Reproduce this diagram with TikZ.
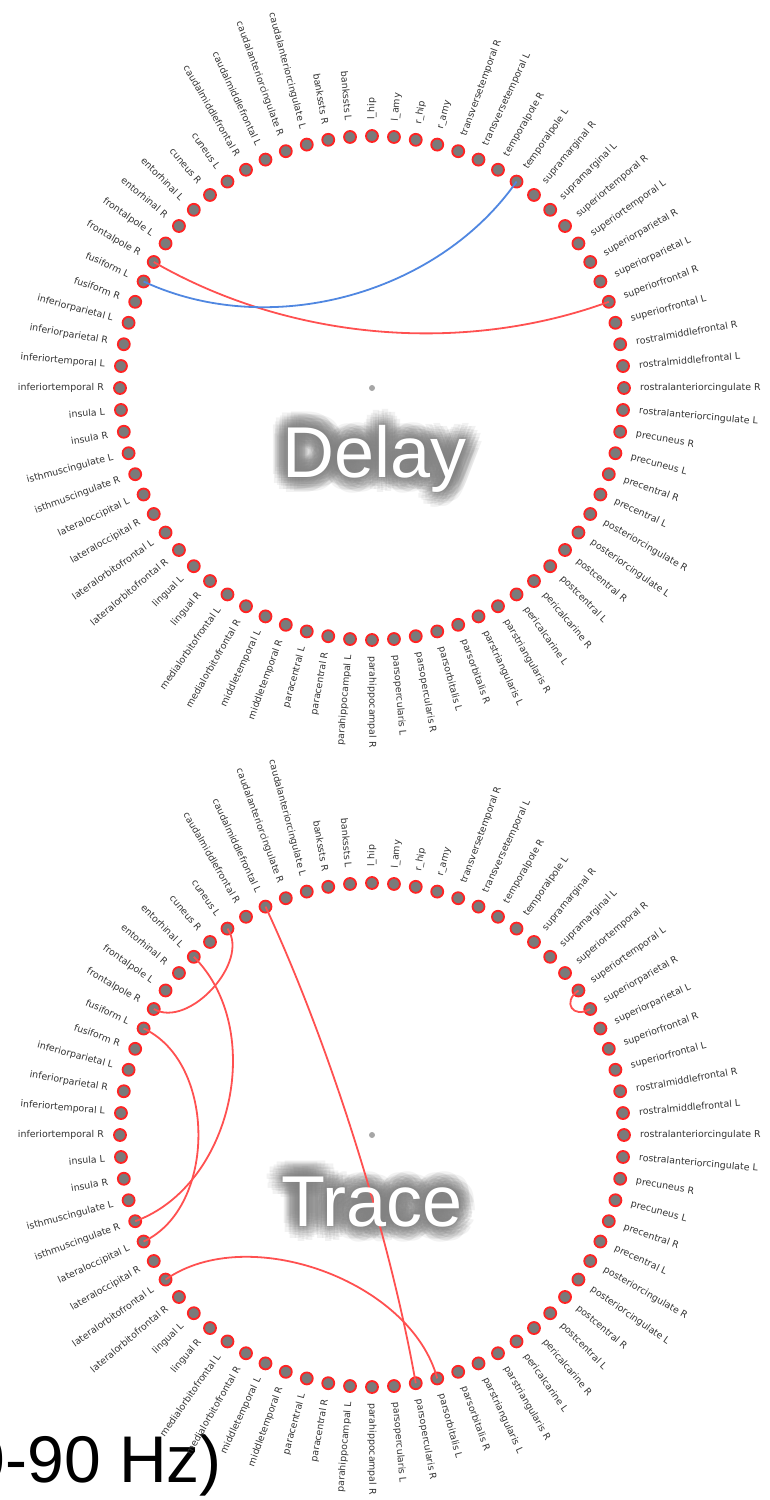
\documentclass[tikz,border=0pt]{standalone}
\usepackage{fontspec}
\newfontfamily\labfont{DejaVu Sans}
\newfontfamily\wordfont{Liberation Sans}
\usetikzlibrary{calc}

\definecolor{roigray}{RGB}{122,122,122}
\definecolor{roired}{RGB}{255,35,35}
\definecolor{linkred}{RGB}{255,80,80}
\definecolor{linkblue}{RGB}{80,135,225}

% regions, clockwise from the top of the circle
\newcommand\roilist{l\_hip, l\_amy, r\_hip, r\_amy, transversetemporal R, transversetemporal L, temporalpole R, temporalpole L, supramarginal R, supramarginal L, superiortemporal R, superiortemporal L, superiorparietal R, superiorparietal L, superiorfrontal R, superiorfrontal L, rostralmiddlefrontal R, rostralmiddlefrontal L, rostralanteriorcingulate R, rostralanteriorcingulate L, precuneus R, precuneus L, precentral R, precentral L, posteriorcingulate R, posteriorcingulate L, postcentral R, postcentral L, pericalcarine R, pericalcarine L, parstriangularis R, parstriangularis L, parsorbitalis R, parsorbitalis L, parsopercularis R, parsopercularis L, parahippocampal R, parahippocampal L, paracentral R, paracentral L, middletemporal R, middletemporal L, medialorbitofrontal R, medialorbitofrontal L, lingual R, lingual L, lateralorbitofrontal R, lateralorbitofrontal L, lateraloccipital R, lateraloccipital L, isthmuscingulate R, isthmuscingulate L, insula R, insula L, inferiortemporal R, inferiortemporal L, inferiorparietal R, inferiorparietal L, fusiform R, fusiform L, frontalpole R, frontalpole L, entorhinal R, entorhinal L, cuneus R, cuneus L, caudalmiddlefrontal R, caudalmiddlefrontal L, caudalanteriorcingulate R, caudalanteriorcingulate L, bankssts R, bankssts L}

% soft shadow: faint copies of a word spread round a circle
\newcommand\glowcopies[1]{%
  \foreach \r in {2,4,...,16}{%
    \foreach \a in {0,30,...,330}{%
      \pgfmathsetlengthmacro\gx{\r*cos(\a+\r*7)}%
      \pgfmathsetlengthmacro\gy{\r*sin(\a+\r*7)}%
      \rlap{\hspace*{\gx}\raisebox{\gy}{#1}}%
    }%
  }%
  \phantom{#1}}

\begin{document}
\begin{tikzpicture}[x=1pt, y=1pt,
    roi/.style={circle, draw=roired, fill=roigray, line width=1.8pt, minimum size=12pt, inner sep=0pt},
    roilabel/.style={font=\labfont\fontsize{9.4}{10}\selectfont, text=black!80, inner sep=0pt},
    hub/.style={circle, fill=black!35, minimum size=6pt, inner sep=0pt},
    link/.style={line width=1.8pt},
    glow/.style={font=\wordfont\fontsize{72}{80}\selectfont, text=black!50, text opacity=0.1, inner sep=0pt, anchor=base},
    word/.style={font=\wordfont\fontsize{72}{80}\selectfont, text=white, inner sep=0pt, anchor=base}]

    % Frame
    \useasboundingbox (0,0) rectangle (769,-1500);
    \clip (0,0) rectangle (769,-1500);

    % Band title (cut at the left edge)
    \node[font=\wordfont\fontsize{66}{70}\selectfont, anchor=base east, inner sep=0pt] (band) at (222,-1482) {0-90 Hz)};

    % Circle centres
    \coordinate (dc) at (372,-388);
    \coordinate (tc) at (372,-1135);

    % Regions and their names
    \foreach \g/\cen in {d/dc, t/tc}{
      \foreach \lab [count=\i from 0] in \roilist {
        \pgfmathsetmacro\ang{90-5*\i}
        \node[roi] (\g\i) at ($(\cen)+(\ang:252)$) {};
        \ifnum\i<37
          \node[roilabel, anchor=west, rotate=\ang] (\g\i-lab) at ($(\cen)+(\ang:268)$) {\lab};
        \else
          \pgfmathsetmacro\flip{\ang+180}
          \node[roilabel, anchor=east, rotate=\flip] (\g\i-lab) at ($(\cen)+(\ang:268)$) {\lab};
        \fi
      }
    }

    % Centre dots
    \node[hub] (dhub) at (dc) {};
    \node[hub] (thub) at (tc) {};

    % Blurred shadow of the titles
    \node[glow] (dglow) at (375,-477) {\glowcopies{Delay}};
    \node[glow] (tglow) at (372,-1226) {\glowcopies{Trace}};

    % Delay links
    \draw[link, linkred] (d60.center) .. controls ($(d60)!.62!(dc)$) and ($(d14)!.62!(dc)$) .. (d14.center);
    \draw[link, linkblue] (d59.center) .. controls ($(d59)!.55!(dc)$) and ($(d7)!.55!(dc)$) .. (d7.center);

    % Trace links
    \foreach \a/\b/\k in {65/60/.16, 63/50/.41, 59/49/.32, 67/34/.6, 47/33/.4, 11/12/.08}
      \draw[link, linkred] (t\a.center) .. controls ($(t\a)!\k!(tc)$) and ($(t\b)!\k!(tc)$) .. (t\b.center);

    % Titles
    \node[word] (delay) at (375,-477) {Delay};
    \node[word] (trace) at (372,-1226) {Trace};
\end{tikzpicture}
\end{document}
